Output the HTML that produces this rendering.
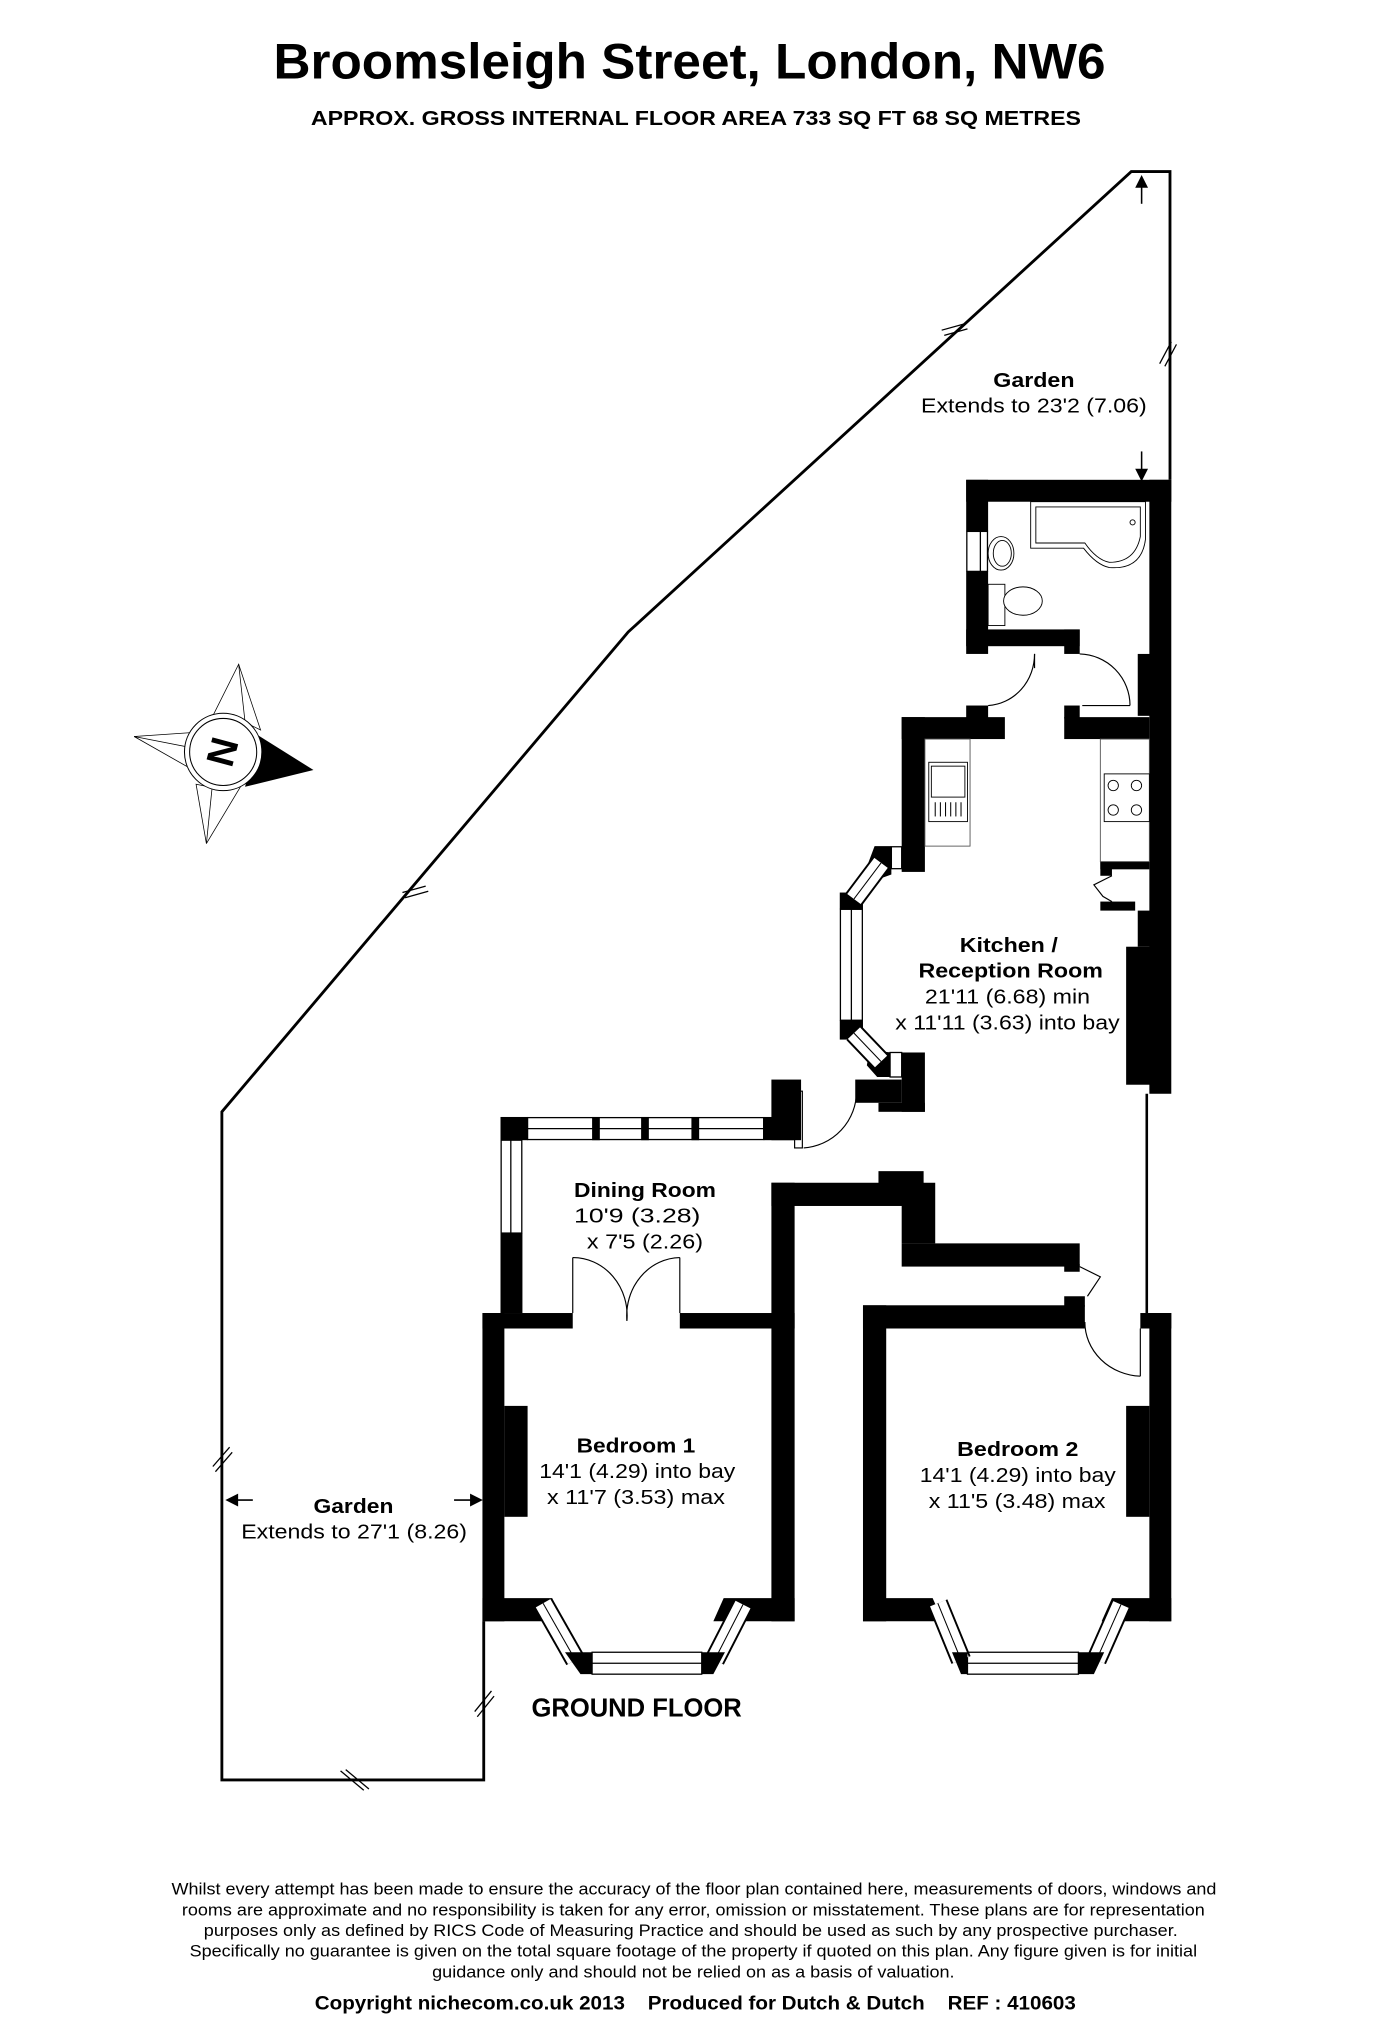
<!DOCTYPE html>
<html><head><meta charset="utf-8"><style>
html,body{margin:0;padding:0;background:#fff;}
svg{display:block;}
text{font-family:"Liberation Sans",Arial,sans-serif;fill:#000;}
.b{font-weight:bold;}
</style></head><body>
<svg width="1388" height="2025" viewBox="0 0 1076 1570" preserveAspectRatio="none" xmlns="http://www.w3.org/2000/svg">
<rect width="1076" height="1570" fill="#fff"/>
<text x="212" y="61" class="b" font-size="39" textLength="645" lengthAdjust="spacingAndGlyphs">Broomsleigh Street, London, NW6</text>
<text x="241" y="97" class="b" font-size="16" textLength="597" lengthAdjust="spacingAndGlyphs">APPROX. GROSS INTERNAL FLOOR AREA 733 SQ FT 68 SQ METRES</text>

<g fill="none" stroke="#000" stroke-width="2.2">
<polyline points="907,372 907,133 877,133 487,490 172,862 172,1380 375,1380 375,1257"/>
</g>
<g stroke="#000" stroke-width="1" fill="none">
<line x1="730" y1="256" x2="748" y2="251"/><line x1="732" y1="260" x2="750" y2="255"/>
<line x1="312" y1="692" x2="330" y2="687"/><line x1="314" y1="696" x2="332" y2="691"/>
<line x1="903" y1="284" x2="912" y2="267"/><line x1="899" y1="282" x2="908" y2="265"/>
<line x1="165" y1="1137" x2="178" y2="1122"/><line x1="167" y1="1141" x2="180" y2="1126"/>
<line x1="368" y1="1327" x2="381" y2="1311"/><line x1="370" y1="1331" x2="383" y2="1315"/>
<line x1="264" y1="1373" x2="282" y2="1388"/><line x1="268" y1="1372" x2="286" y2="1387"/>
</g>
<g stroke="#000" stroke-width="1.2" fill="#000">
<line x1="885" y1="140" x2="885" y2="158"/><polygon points="885,137 881,145 889,145"/>
<line x1="885" y1="350" x2="885" y2="368"/><polygon points="885,372 881,364 889,364"/>
<line x1="180" y1="1163" x2="196" y2="1163"/><polygon points="176,1163 184,1159 184,1167"/>
<line x1="352" y1="1163" x2="368" y2="1163"/><polygon points="373,1163 365,1159 365,1167"/>
</g>

<g>
<g fill="#fff" stroke="#000" stroke-width="0.6">
<polygon points="185,515 165,555 195,560"/>
<polygon points="185,515 190,560 202,566"/>
<polygon points="104,571 148,568 150,590"/>
<polygon points="104,571 150,580 155,600"/>
<polygon points="160,654 152,608 172,612"/>
<polygon points="160,654 165,605 190,604"/>
</g>
<polygon points="243,597 200,570 190,610" fill="#000"/>
<circle cx="173" cy="583" r="30" fill="#fff" stroke="#000" stroke-width="0.8"/>
<circle cx="173" cy="583" r="26" fill="#fff" stroke="#000" stroke-width="0.8"/>
<text x="173" y="583" class="b" font-size="30" text-anchor="middle" dominant-baseline="central" transform="rotate(-75 173 583)">N</text>
</g>

<g fill="#000">
<rect x="749" y="372" width="159" height="17"/>
<rect x="749" y="372" width="17" height="40"/>
<rect x="749" y="443" width="17" height="64"/>
<rect x="749" y="488" width="88" height="13"/>
<rect x="825" y="488" width="12" height="19"/>
<rect x="891" y="372" width="17" height="476"/>
<rect x="882" y="507" width="10" height="48"/>
<rect x="699" y="556" width="80" height="17"/>
<rect x="749" y="547" width="17" height="10"/>
<rect x="825" y="556" width="66" height="17"/>
<rect x="825" y="547" width="12" height="10"/>
<rect x="699" y="556" width="18" height="120"/>
<rect x="853" y="668" width="38" height="6"/>
<rect x="853" y="668" width="9" height="11"/>
<rect x="853" y="699" width="27" height="7"/>
<rect x="882" y="706" width="10" height="28"/>
<rect x="873" y="734" width="19" height="107"/>
<polygon points="678,656 691,656 691,678 680,682 672,672"/>
<rect x="651" y="692" width="18" height="13"/>
<rect x="651" y="791" width="18" height="15"/>
<polygon points="674,814 691,816 691,835 680,835 672,826"/>
<rect x="699" y="816" width="18" height="46"/>
<rect x="663" y="837" width="36" height="18"/>
<rect x="681" y="855" width="36" height="7"/>
<rect x="388" y="866" width="21" height="18"/>
<rect x="592" y="866" width="24" height="18"/>
<rect x="598" y="837" width="23" height="47"/>
<rect x="388" y="956" width="17" height="62"/>
<rect x="374" y="1018" width="70" height="12"/>
<rect x="527" y="1018" width="89" height="12"/>
<rect x="374" y="1018" width="17" height="239"/>
<rect x="391" y="1090" width="18" height="86"/>
<polygon points="374,1239 428,1239 436,1257 374,1257"/>
<polygon points="561,1239 616,1239 616,1257 553,1257"/>
<rect x="598" y="917" width="18" height="340"/>
<rect x="598" y="917" width="118" height="18"/>
<rect x="681" y="908" width="35" height="10"/>
<rect x="699" y="917" width="26" height="47"/>
<rect x="699" y="964" width="138" height="18"/>
<rect x="825" y="980" width="12" height="6"/>
<rect x="669" y="1012" width="172" height="18"/>
<rect x="825" y="1005" width="16" height="8"/>
<rect x="884" y="1018" width="24" height="12"/>
<rect x="669" y="1012" width="18" height="245"/>
<rect x="891" y="1018" width="17" height="239"/>
<rect x="873" y="1090" width="18" height="86"/>
<polygon points="669,1239 723,1239 731,1257 669,1257"/>
<polygon points="862,1239 908,1239 908,1257 854,1257"/>
</g>
<line x1="889" y1="848" x2="889" y2="1018" stroke="#000" stroke-width="2"/>

<g fill="#fff" stroke="#000" stroke-width="1">
<rect x="749.5" y="412" width="16" height="31"/>
<line x1="760" y1="412" x2="760" y2="443"/>
<rect x="409" y="866.5" width="183" height="17"/>
<line x1="409" y1="875" x2="592" y2="875"/>
<rect x="388.5" y="884" width="16" height="72"/>
<line x1="396" y1="884" x2="396" y2="956"/>
<rect x="691" y="656.5" width="8" height="17"/>
<rect x="651.5" y="705" width="17" height="86"/>
<line x1="660" y1="705" x2="660" y2="791"/>
<rect x="690" y="816" width="9" height="19"/>
<rect x="459" y="1281" width="85" height="17"/>
<line x1="459" y1="1289.5" x2="544" y2="1289.5"/>
<rect x="750" y="1281" width="86" height="17"/>
<line x1="750" y1="1289.5" x2="836" y2="1289.5"/>
</g>
<g fill="#000">
<rect x="459" y="866" width="6" height="18"/>
<rect x="497" y="866" width="6" height="18"/>
<rect x="536" y="866" width="6" height="18"/>
</g>
<g>
<g stroke="#000" stroke-width="16" stroke-linecap="butt">
<line x1="683" y1="669" x2="662" y2="697"/><line x1="662" y1="801" x2="683" y2="823"/>
<line x1="421" y1="1243" x2="446" y2="1287"/><line x1="554" y1="1287" x2="576" y2="1244"/>
<line x1="727" y1="1243" x2="745" y2="1287"/><line x1="850" y1="1287" x2="869" y2="1244"/>
</g>
<g stroke="#fff" stroke-width="13">
<line x1="683" y1="669" x2="662" y2="697"/><line x1="662" y1="801" x2="683" y2="823"/>
<line x1="421" y1="1243" x2="446" y2="1287"/><line x1="554" y1="1287" x2="576" y2="1244"/>
<line x1="727" y1="1243" x2="745" y2="1287"/><line x1="850" y1="1287" x2="869" y2="1244"/>
</g>
<g stroke="#000" stroke-width="0.8">
<line x1="683" y1="669" x2="662" y2="697"/><line x1="662" y1="801" x2="683" y2="823"/>
<line x1="421" y1="1243" x2="446" y2="1287"/><line x1="554" y1="1287" x2="576" y2="1244"/>
<line x1="727" y1="1243" x2="745" y2="1287"/><line x1="850" y1="1287" x2="869" y2="1244"/>
</g>
<g fill="#000">
<polygon points="438,1281 459,1281 459,1298 450,1298"/>
<polygon points="544,1281 562,1281 553,1298 544,1298"/>
<polygon points="738,1281 750,1281 750,1298 745,1298"/>
<polygon points="836,1281 856,1281 848,1298 836,1298"/>
</g>
</g>

<g fill="none" stroke="#000" stroke-width="0.9">
<line x1="802" y1="507" x2="802" y2="518"/>
<path d="M802,507 A38,40 0 0 1 766,547"/>
<path d="M837,507 A40,40 0 0 1 876,547"/>
<line x1="839" y1="547" x2="876" y2="547"/>
<rect x="616" y="846" width="6" height="44"/>
<path d="M623,890 A44,44 0 0 0 664,846"/>
<line x1="444" y1="975" x2="444" y2="1018"/><line x1="527" y1="975" x2="527" y2="1018"/>
<path d="M444,975 A42,45 0 0 1 486,1024"/>
<path d="M527,975 A42,45 0 0 0 486,1024"/>
<polyline points="862,679 848,686 855,695 862,699"/>
<polyline points="837,982 853,990 843,1005"/>
<path d="M841,1025 A45,42 0 0 0 884,1067"/>
<line x1="884" y1="1030" x2="884" y2="1067"/>
</g>

<g fill="#fff" stroke="#000" stroke-width="0.7">
<path d="M799,389 H888 V418 Q885,442 860,440 Q850,438 840,425 H799 Z"/>
<path d="M803,393 H884 V416 Q880,436 860,436 Q850,434 841,421 H803 Z"/>
<circle cx="878" cy="405" r="2"/>
<ellipse cx="776" cy="429" rx="10" ry="13"/>
<ellipse cx="777" cy="429" rx="7" ry="10"/>
<rect x="766" y="453" width="13" height="32"/>
<ellipse cx="793" cy="466" rx="15" ry="11"/>
</g>
<g fill="none" stroke="#555" stroke-width="0.7">
<rect x="717" y="573" width="35" height="83"/>
<rect x="853" y="573" width="38" height="95"/>
</g>
<g fill="#fff" stroke="#000" stroke-width="0.7">
<rect x="720" y="591" width="30" height="46"/>
<rect x="722" y="594" width="26" height="24"/>
<rect x="856" y="600" width="35" height="37"/>
<circle cx="863" cy="609" r="4"/><circle cx="881" cy="609" r="4"/>
<circle cx="863" cy="628" r="4"/><circle cx="881" cy="628" r="4"/>
</g>
<g stroke="#000" stroke-width="0.8">
<line x1="725" y1="622" x2="725" y2="633"/><line x1="729" y1="622" x2="729" y2="633"/>
<line x1="733" y1="622" x2="733" y2="633"/><line x1="737" y1="622" x2="737" y2="633"/>
<line x1="741" y1="622" x2="741" y2="633"/><line x1="745" y1="622" x2="745" y2="633"/>
</g>

<g font-size="16" text-anchor="start">
<text x="770" y="300" class="b" textLength="63" lengthAdjust="spacingAndGlyphs">Garden</text>
<text x="714" y="320" textLength="175" lengthAdjust="spacingAndGlyphs">Extends to 23'2 (7.06)</text>
<text x="744" y="738" class="b" textLength="76" lengthAdjust="spacingAndGlyphs">Kitchen /</text>
<text x="712" y="758" class="b" textLength="143" lengthAdjust="spacingAndGlyphs">Reception Room</text>
<text x="717" y="778" textLength="128" lengthAdjust="spacingAndGlyphs">21'11 (6.68) min</text>
<text x="694" y="798" textLength="174" lengthAdjust="spacingAndGlyphs">x 11'11 (3.63) into bay</text>
<text x="445" y="928" class="b" textLength="110" lengthAdjust="spacingAndGlyphs">Dining Room</text>
<text x="445" y="948" textLength="98" lengthAdjust="spacingAndGlyphs">10'9 (3.28)</text>
<text x="455" y="968" textLength="90" lengthAdjust="spacingAndGlyphs">x 7'5 (2.26)</text>
<text x="447" y="1126" class="b" textLength="92" lengthAdjust="spacingAndGlyphs">Bedroom 1</text>
<text x="418" y="1146" textLength="152" lengthAdjust="spacingAndGlyphs">14'1 (4.29) into bay</text>
<text x="424" y="1166" textLength="138" lengthAdjust="spacingAndGlyphs">x 11'7 (3.53) max</text>
<text x="742" y="1129" class="b" textLength="94" lengthAdjust="spacingAndGlyphs">Bedroom 2</text>
<text x="713" y="1149" textLength="152" lengthAdjust="spacingAndGlyphs">14'1 (4.29) into bay</text>
<text x="720" y="1169" textLength="137" lengthAdjust="spacingAndGlyphs">x 11'5 (3.48) max</text>
<text x="243" y="1173" class="b" textLength="62" lengthAdjust="spacingAndGlyphs">Garden</text>
<text x="187" y="1193" textLength="175" lengthAdjust="spacingAndGlyphs">Extends to 27'1 (8.26)</text>
</g>
<text x="412" y="1331" class="b" font-size="20" textLength="163" lengthAdjust="spacingAndGlyphs">GROUND FLOOR</text>

<g font-size="13">
<text x="133" y="1469" textLength="810" lengthAdjust="spacingAndGlyphs">Whilst every attempt has been made to ensure the accuracy of the floor plan contained here, measurements of doors, windows and</text>
<text x="141" y="1485" textLength="793" lengthAdjust="spacingAndGlyphs">rooms are approximate and no responsibility is taken for any error, omission or misstatement. These plans are for representation</text>
<text x="158" y="1501" textLength="755" lengthAdjust="spacingAndGlyphs">purposes only as defined by RICS Code of Measuring Practice and should be used as such by any prospective purchaser.</text>
<text x="147" y="1517" textLength="781" lengthAdjust="spacingAndGlyphs">Specifically no guarantee is given on the total square footage of the property if quoted on this plan. Any figure given is for initial</text>
<text x="335" y="1533" textLength="405" lengthAdjust="spacingAndGlyphs">guidance only and should not be relied on as a basis of valuation.</text>
</g>
<text x="244" y="1558" class="b" font-size="15" textLength="590" lengthAdjust="spacingAndGlyphs" xml:space="preserve">Copyright nichecom.co.uk 2013    Produced for Dutch &amp; Dutch    REF : 410603</text>
</svg>
</body></html>
